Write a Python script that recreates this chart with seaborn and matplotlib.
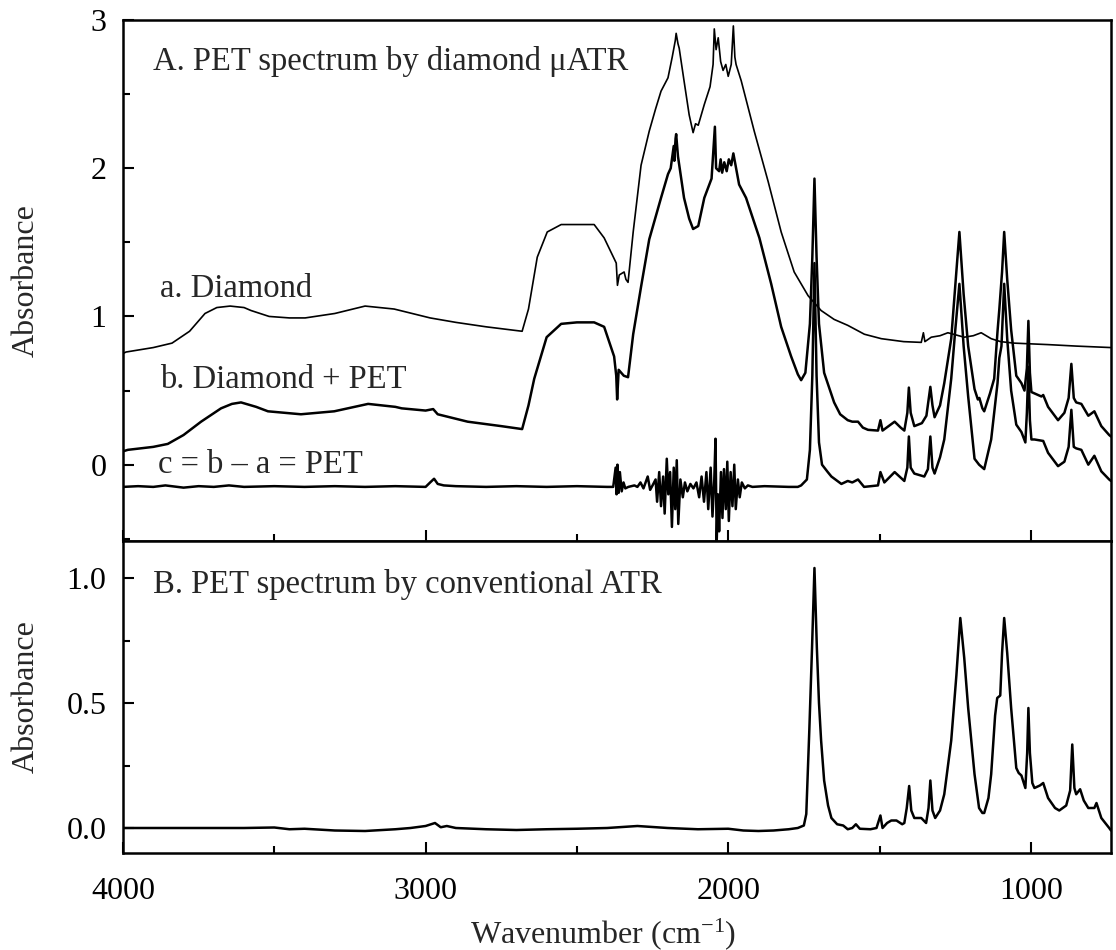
import matplotlib
matplotlib.use("Agg")
import matplotlib.pyplot as plt
from matplotlib.ticker import MultipleLocator
import seaborn as sns
import pandas as pd

# ---------------- data ----------------
wn_diamond = [4000, 3990, 3900, 3838, 3780, 3729, 3690, 3646, 3600, 3577, 3517, 3450, 3398, 3300,
              3200, 3104, 2985, 2900, 2800, 2681, 2660, 2631, 2598, 2552, 2500, 2443, 2410, 2377,
              2370, 2366, 2360, 2344, 2338, 2331, 2314, 2288, 2261, 2240, 2222, 2199, 2185, 2175,
              2172, 2166, 2162, 2146, 2129, 2116, 2108, 2099, 2079, 2060, 2050, 2046, 2040, 2033,
              2025, 2017, 2008, 2000, 1990, 1983, 1978, 1974, 1957, 1914, 1868, 1825, 1782, 1736,
              1693, 1650, 1605, 1550, 1494, 1420, 1362, 1355, 1350, 1329, 1300, 1274, 1220, 1190,
              1164, 1131, 1100, 1055, 943, 850, 735]
abs_diamond = [0.75, 0.76, 0.79, 0.82, 0.90, 1.02, 1.06, 1.07, 1.06, 1.04, 1.00, 0.99, 0.99, 1.02,
               1.07, 1.05, 0.99, 0.96, 0.93, 0.90, 1.05, 1.40, 1.57, 1.62, 1.62, 1.62, 1.53, 1.39,
               1.36, 1.21, 1.28, 1.30, 1.25, 1.23, 1.57, 2.02, 2.25, 2.40, 2.52, 2.61, 2.75, 2.86,
               2.91, 2.84, 2.81, 2.59, 2.36, 2.24, 2.30, 2.29, 2.43, 2.55, 2.70, 2.94, 2.80, 2.88,
               2.72, 2.66, 2.70, 2.62, 2.70, 2.96, 2.75, 2.70, 2.59, 2.25, 1.91, 1.57, 1.30, 1.14,
               1.04, 0.98, 0.94, 0.88, 0.85, 0.83, 0.825, 0.89, 0.83, 0.86, 0.87, 0.89, 0.86, 0.87,
               0.89, 0.85, 0.83, 0.82, 0.81, 0.80, 0.79]

wn_mix = [4000, 3984, 3900, 3852, 3800, 3742, 3676, 3640, 3610, 3560, 3521, 3412, 3302, 3190,
          3100, 3079, 3000, 2975, 2960, 2861, 2750, 2681, 2660, 2641, 2600, 2552, 2500, 2443,
          2410, 2377, 2370, 2367, 2362, 2345, 2331, 2314, 2288, 2261, 2222, 2199, 2190, 2180,
          2178, 2174, 2172, 2166, 2162, 2146, 2129, 2116, 2099, 2079, 2055, 2044, 2040, 2030,
          2025, 2020, 2013, 2005, 1998, 1990, 1983, 1964, 1941, 1897, 1858, 1825, 1792, 1770,
          1759, 1745, 1730, 1722, 1715, 1708, 1700, 1683, 1660, 1650, 1630, 1605, 1590, 1571,
          1555, 1538, 1505, 1497, 1490, 1470, 1450, 1430, 1418, 1408, 1403, 1397, 1385, 1360,
          1345, 1332, 1325, 1318, 1300, 1286, 1263, 1250, 1236, 1222, 1207, 1186, 1175, 1170,
          1160, 1154, 1135, 1121, 1110, 1104, 1095, 1088, 1078, 1065, 1048, 1031, 1021, 1013,
          1008, 1003, 998, 965, 959, 943, 910, 889, 875, 866, 858, 850, 833, 810, 790, 767, 741,
          735]
abs_mix = [0.09, 0.10, 0.12, 0.14, 0.20, 0.29, 0.38, 0.41, 0.42, 0.39, 0.36, 0.34, 0.36, 0.41,
           0.39, 0.38, 0.365, 0.375, 0.34, 0.29, 0.26, 0.24, 0.40, 0.58, 0.86, 0.95, 0.96, 0.96,
           0.93, 0.73, 0.60, 0.44, 0.64, 0.60, 0.59, 0.88, 1.20, 1.52, 1.80, 1.96, 2.00, 2.15,
           2.05, 2.20, 2.23, 2.08, 2.02, 1.80, 1.66, 1.59, 1.61, 1.80, 1.93, 2.28, 2.00, 1.98,
           2.06, 1.97, 2.04, 1.98, 2.06, 2.02, 2.10, 1.89, 1.80, 1.53, 1.22, 0.93, 0.73, 0.61,
           0.57, 0.62, 0.95, 1.40, 1.93, 1.40, 0.95, 0.62, 0.48, 0.42, 0.34, 0.30, 0.29, 0.29,
           0.25, 0.235, 0.23, 0.30, 0.23, 0.26, 0.29, 0.25, 0.23, 0.35, 0.52, 0.35, 0.26, 0.28,
           0.33, 0.525, 0.40, 0.32, 0.40, 0.55, 0.85, 1.20, 1.57, 1.15, 0.80, 0.51, 0.44, 0.45,
           0.38, 0.36, 0.48, 0.58, 0.90, 1.05, 1.30, 1.57, 1.25, 0.91, 0.60, 0.55, 0.50, 0.65,
           0.97, 0.62, 0.49, 0.46, 0.47, 0.39, 0.30, 0.35, 0.45, 0.68, 0.45, 0.42, 0.41, 0.33,
           0.36, 0.26, 0.20, 0.19]

wn_diff = [4000, 3950, 3900, 3860, 3800, 3750, 3700, 3650, 3600, 3500, 3400, 3300, 3200, 3100,
           3000, 2985, 2972, 2960, 2940, 2900, 2800, 2700, 2600, 2500, 2400, 2380, 2372, 2369,
           2366, 2362, 2358, 2352, 2346, 2340, 2330, 2310, 2300, 2290, 2280, 2266, 2258, 2250,
           2240, 2235, 2228, 2222, 2215, 2210, 2203, 2198, 2192, 2186, 2180, 2175, 2170, 2165,
           2158, 2150, 2143, 2135, 2125, 2115, 2105, 2096, 2088, 2080, 2072, 2066, 2058, 2052,
           2046, 2042, 2038, 2034, 2030, 2024, 2019, 2014, 2008, 2003, 1998, 1992, 1986, 1980,
           1975, 1968, 1962, 1955, 1945, 1935, 1920, 1880, 1800, 1770, 1759, 1740, 1730, 1722,
           1715, 1708, 1700, 1690, 1671, 1659, 1626, 1605, 1590, 1571, 1551, 1505, 1497, 1484,
           1450, 1418, 1408, 1403, 1397, 1385, 1352, 1340, 1332, 1325, 1318, 1300, 1286, 1263,
           1250, 1236, 1222, 1207, 1186, 1171, 1154, 1131, 1110, 1104, 1097, 1088, 1078, 1065,
           1048, 1031, 1018, 1013, 1008, 1003, 998, 988, 959, 943, 910, 889, 875, 866, 858, 850,
           833, 810, 790, 767, 741, 735]
abs_diff = [-0.15, -0.145, -0.15, -0.14, -0.155, -0.145, -0.15, -0.14, -0.15, -0.145, -0.15, -0.145,
            -0.15, -0.145, -0.15, -0.12, -0.095, -0.13, -0.14, -0.145, -0.15, -0.145, -0.15, -0.145,
            -0.15, -0.15, -0.02, -0.20, 0.00, -0.19, -0.05, -0.18, -0.12, -0.16, -0.15, -0.14,
            -0.15, -0.12, -0.16, -0.08, -0.17, -0.14, -0.10, -0.25, -0.05, -0.28, -0.08, -0.33,
            0.04, -0.20, -0.05, -0.42, -0.02, -0.30, 0.03, -0.40, -0.10, -0.22, -0.12, -0.18,
            -0.13, -0.16, -0.12, -0.22, -0.08, -0.25, -0.05, -0.30, -0.02, -0.35, -0.10, 0.175,
            -0.52, -0.20, -0.45, -0.05, -0.36, -0.03, -0.30, 0.02, -0.38, -0.05, -0.28, 0.00,
            -0.30, -0.10, -0.22, -0.12, -0.16, -0.14, -0.15, -0.145, -0.15, -0.15, -0.14, -0.10,
            0.10, 0.60, 1.36, 0.60, 0.15, 0.00, -0.05, -0.08, -0.13, -0.11, -0.12, -0.10, -0.15,
            -0.14, -0.05, -0.12, -0.05, -0.11, -0.02, 0.19, -0.02, -0.06, -0.08, -0.03, 0.19,
            -0.02, -0.06, 0.05, 0.17, 0.58, 0.90, 1.22, 0.80, 0.46, 0.04, 0.00, -0.03, 0.17,
            0.55, 0.72, 0.80, 1.22, 0.85, 0.50, 0.27, 0.22, 0.15, 0.35, 0.66, 0.30, 0.17, 0.17,
            0.16, 0.08, -0.01, 0.02, 0.12, 0.37, 0.12, 0.11, 0.10, 0.00, 0.06, -0.045, -0.10, -0.11]

wn_conv = [4000, 3800, 3600, 3500, 3450, 3400, 3300, 3200, 3100, 3050, 3000, 2969, 2950, 2930,
           2900, 2800, 2700, 2600, 2500, 2400, 2300, 2200, 2100, 2000, 1950, 1900, 1850, 1800,
           1770, 1750, 1742, 1732, 1723, 1715, 1707, 1700, 1693, 1683, 1670, 1659, 1640, 1620,
           1605, 1590, 1578, 1565, 1530, 1510, 1497, 1490, 1475, 1461, 1444, 1425, 1418, 1410,
           1402, 1395, 1385, 1362, 1346, 1338, 1332, 1325, 1316, 1300, 1286, 1263, 1246, 1233,
           1220, 1207, 1186, 1171, 1160, 1154, 1140, 1131, 1118, 1111, 1101, 1095, 1088, 1078,
           1065, 1048, 1040, 1031, 1018, 1012, 1008, 1003, 995, 988, 970, 959, 943, 920, 906,
           883, 870, 863, 856, 850, 837, 825, 810, 790, 783, 775, 767, 741, 735]
abs_conv = [0.0, 0.0, 0.0, 0.002, -0.005, -0.003, -0.01, -0.012, -0.005, 0.0, 0.008, 0.02, 0.003,
            0.008, 0.0, -0.005, -0.008, -0.005, -0.003, 0.0, 0.008, 0.0, -0.005, -0.003, -0.01,
            -0.012, -0.01, -0.005, 0.0, 0.01, 0.056, 0.39, 0.72, 1.04, 0.72, 0.50, 0.35, 0.19, 0.09,
            0.04, 0.015, 0.01, -0.005, 0.0, 0.015, -0.003, -0.005, 0.0, 0.05, 0.0, 0.02, 0.03, 0.03,
            0.015, 0.02, 0.08, 0.168, 0.07, 0.04, 0.04, 0.02, 0.08, 0.19, 0.07, 0.04, 0.07, 0.135,
            0.35, 0.61, 0.84, 0.68, 0.48, 0.215, 0.08, 0.06, 0.06, 0.12, 0.215, 0.45, 0.52, 0.53,
            0.70, 0.84, 0.70, 0.48, 0.24, 0.22, 0.21, 0.16, 0.30, 0.48, 0.30, 0.18, 0.16, 0.17,
            0.18, 0.12, 0.08, 0.07, 0.09, 0.15, 0.334, 0.16, 0.135, 0.155, 0.11, 0.08, 0.08, 0.10,
            0.07, 0.04, 0.0, -0.01]

label_a = "a. Diamond"
label_b = "b. Diamond + PET"
label_c = "c = b \u2013 a = PET"
title_top = "A. PET spectrum by diamond \u03bcATR"
title_bottom = "B. PET spectrum by conventional ATR"
x_ticks = [4000, 3000, 2000, 1000]
top_y_ticks = [0, 1, 2, 3]
bottom_y_ticks = [0.0, 0.5, 1.0]

# ---------------- styling ----------------
sns.set_theme(style="ticks")
plt.rcParams["font.family"] = ["Liberation Serif", "DejaVu Serif"]
plt.rcParams["mathtext.default"] = "regular"
plt.rcParams["axes.linewidth"] = 1.8

df_a = pd.DataFrame({"wn": wn_diamond, "A": abs_diamond})
df_b = pd.DataFrame({"wn": wn_mix, "A": abs_mix})
df_c = pd.DataFrame({"wn": wn_diff, "A": abs_diff})
df_d = pd.DataFrame({"wn": wn_conv, "A": abs_conv})

fig = plt.figure(figsize=(11.16, 9.5), dpi=100)
W, H = 1116, 950
ax1 = fig.add_axes([123 / W, 1 - 541 / H, 988 / W, 521 / H])
ax2 = fig.add_axes([123 / W, 1 - 853 / H, 988 / W, 312 / H])

sns.lineplot(data=df_a, x="wn", y="A", ax=ax1, color="black", linewidth=1.2)
sns.lineplot(data=df_b, x="wn", y="A", ax=ax1, color="black", linewidth=1.8)
sns.lineplot(data=df_c, x="wn", y="A", ax=ax1, color="black", linewidth=1.8)
sns.lineplot(data=df_d, x="wn", y="A", ax=ax2, color="black", linewidth=1.8)

fs = 23
fs_ann = 23.5
for ax in (ax1, ax2):
    ax.set_xlim(4000, 735)
    ax.xaxis.set_major_locator(MultipleLocator(1000))
    ax.xaxis.set_minor_locator(MultipleLocator(500))
    ax.tick_params(which="both", direction="in", width=1.5, labelsize=fs,
                   top=False, right=False, colors="black")
    ax.tick_params(which="major", length=8)
    ax.tick_params(which="minor", length=5)
    ax.tick_params(axis="y", pad=12)
    ax.tick_params(axis="x", pad=17)
    for s in ax.spines.values():
        s.set_visible(True)
        s.set_color("black")
    ax.set_ylabel("Absorbance", fontsize=fs)
    ax.yaxis.set_label_coords(-0.083, 0.5)

ax1.set_ylim(-0.515, 3.0)
ax1.set_yticks(top_y_ticks)
ax1.yaxis.set_minor_locator(MultipleLocator(0.5))
ax1.set_xticks(x_ticks)
ax1.tick_params(axis="x", labelbottom=False)
ax1.set_xlabel("")

ax2.set_ylim(-0.1, 1.148)
ax2.set_yticks(bottom_y_ticks)
ax2.set_yticklabels(["0.0", "0.5", "1.0"])
ax2.yaxis.set_minor_locator(MultipleLocator(0.25))
ax2.set_xticks(x_ticks)
ax2.set_xticklabels([str(v) for v in x_ticks])
ax2.set_xlabel("Wavenumber (cm$^{-1}$)", fontsize=fs)
ax2.xaxis.label.set_va("baseline")
ax2.xaxis.set_label_coords(0.486, -0.2885)

ax1.text(3901, 2.66, title_top, fontsize=fs_ann, va="baseline", ha="left")
ax1.text(3878, 1.13, label_a, fontsize=fs_ann, va="baseline", ha="left")
ax1.text(3878, 0.515, label_b, fontsize=fs_ann, va="baseline", ha="left")
ax1.text(3884, -0.058, label_c, fontsize=fs_ann, va="baseline", ha="left")
ax2.text(3901, 0.94, title_bottom, fontsize=fs_ann, va="baseline", ha="left")

fig.savefig("out.png", dpi=100, facecolor="white")
